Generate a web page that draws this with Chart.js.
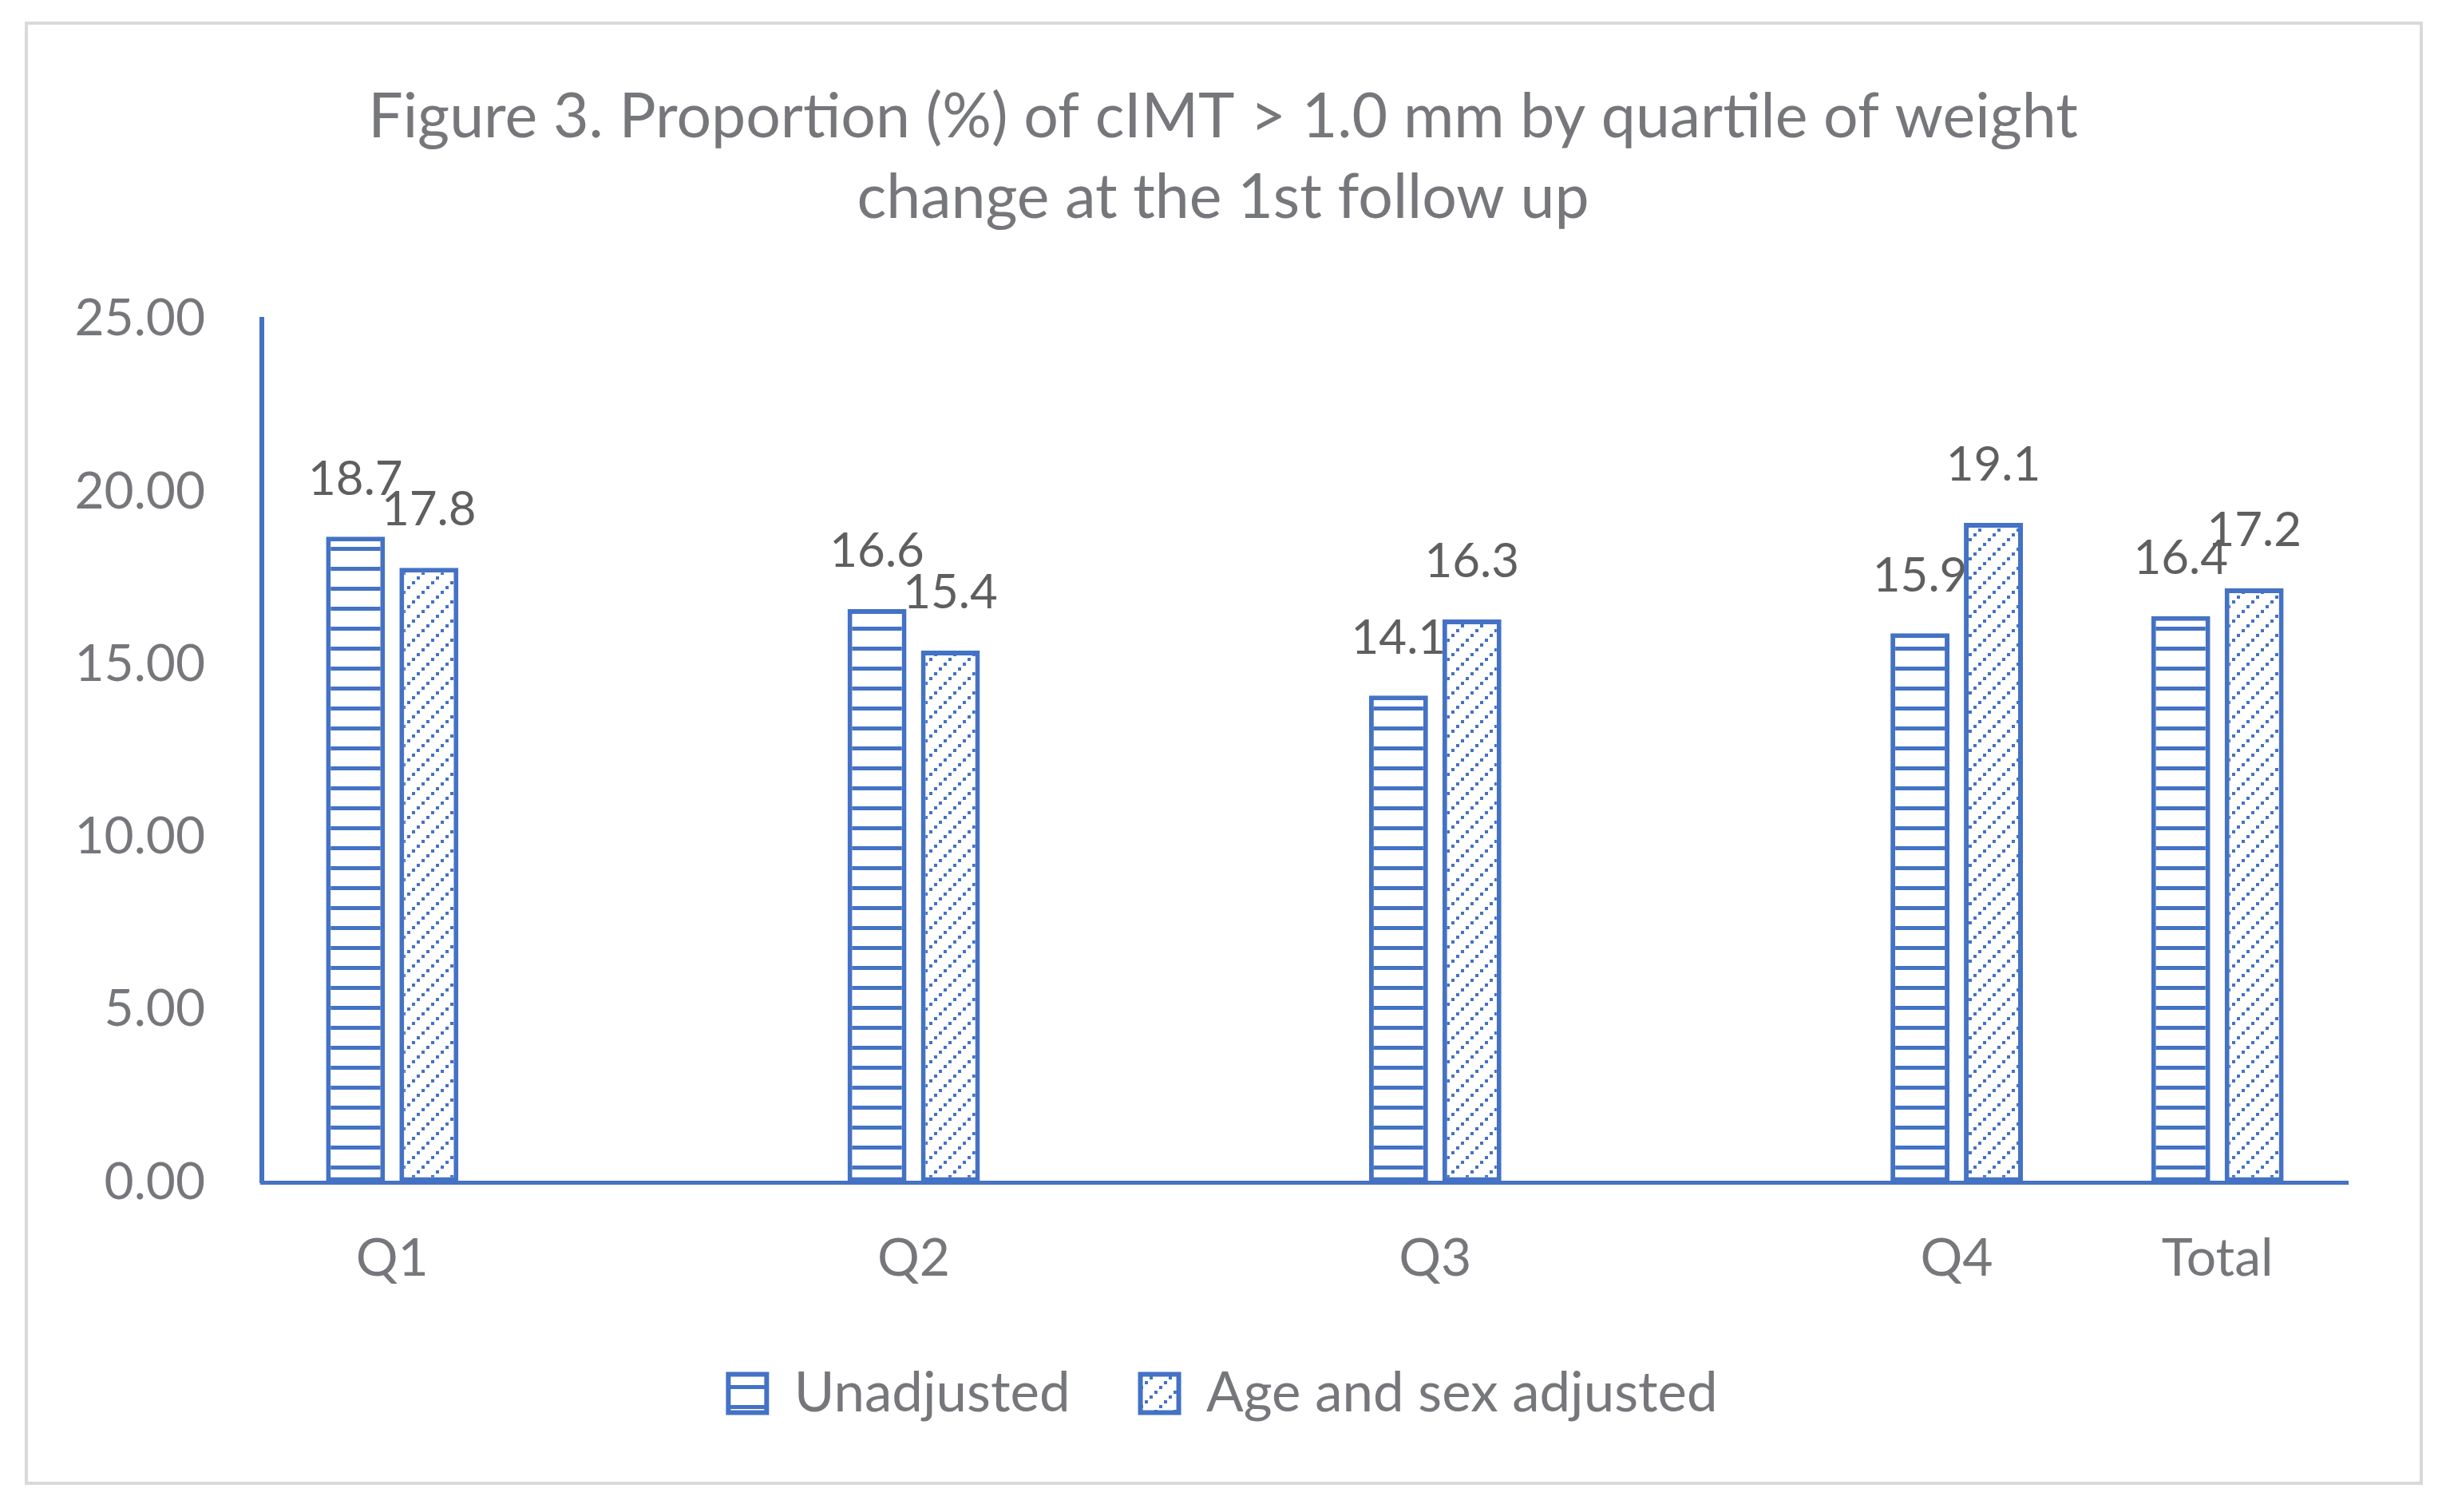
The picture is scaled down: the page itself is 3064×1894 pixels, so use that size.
<!DOCTYPE html>
<html>
<head>
<meta charset="utf-8">
<script src="https://cdn.jsdelivr.net/npm/chart.js@4.4.0/dist/chart.umd.min.js"></script>
<style>
html, body { margin: 0; padding: 0; background: #fff; }
#wrap { width: 3064px; height: 1894px; position: relative; }
</style>
</head>
<body>
<div id="wrap"><canvas id="chartOne"></canvas></div>
<script>
// blank slots keep the wide spacing between Q1..Q4 in the original
const categories = ['Q1', '', 'Q2', '', 'Q3', '', 'Q4', 'Total'];
const unadjusted = [18.7, null, 16.6, null, 14.1, null, 15.9, 16.4];
const ageSexAdjusted = [17.8, null, 15.4, null, 16.3, null, 19.1, 17.2];
const yTicks = [0, 5, 10, 15, 20, 25];
const seriesNames = ['Unadjusted', 'Age and sex adjusted'];

const blue = '#4472C4';
const grey = '#76777B';
const fontName = 'Lato';

const canvas = document.getElementById('chartOne');
const ctx = canvas.getContext('2d');

function stripes() {
    const c = document.createElement('canvas');
    c.width = 25; c.height = 25;
    const g = c.getContext('2d');
    g.fillStyle = '#fff';
    g.fillRect(0, 0, 25, 25);
    g.fillStyle = blue;
    g.fillRect(0, 10, 25, 5);
    return ctx.createPattern(c, 'repeat');
}

function hatch() {
    const c = document.createElement('canvas');
    c.width = 24; c.height = 24;
    const g = c.getContext('2d');
    g.fillStyle = '#fff';
    g.fillRect(0, 0, 24, 24);
    g.fillStyle = blue;
    for (let i = 0; i < 4; i++) {
        g.fillRect(i * 6, 20 - i * 6, 4, 4);
    }
    return ctx.createPattern(c, 'repeat');
}

const frame = {
    id: 'frame',
    beforeDraw(chart) {
        const c = chart.ctx;
        c.save();
        c.fillStyle = '#fff';
        c.fillRect(0, 0, chart.width, chart.height);
        c.strokeStyle = '#D9D9D9';
        c.lineWidth = 4;
        c.strokeRect(33, 29, 3000, 1829);
        c.restore();
    },
};

const barLabels = {
    id: 'barLabels',
    afterDatasetsDraw(chart) {
        const c = chart.ctx;
        c.save();
        c.font = '60px ' + fontName;
        c.fillStyle = '#5F5F5F';
        c.textAlign = 'center';
        c.textBaseline = 'middle';
        chart.data.datasets.forEach((ds, i) => {
            chart.getDatasetMeta(i).data.forEach((bar, j) => {
                const v = ds.data[j];
                if (v == null) return;
                c.fillText(v.toFixed(1), bar.x, bar.y - 72);
            });
        });
        c.restore();
    },
};

const myBarChart = new Chart(ctx, {
    type: 'bar',
    data: {
        labels: categories,
        datasets: [{
            label: seriesNames[0],
            data: unadjusted,
            backgroundColor: stripes(),
            borderColor: blue,
            borderWidth: 6,
            borderSkipped: false,
        }, {
            label: seriesNames[1],
            data: ageSexAdjusted,
            backgroundColor: hatch(),
            borderColor: blue,
            borderWidth: 6,
            borderSkipped: false,
        }],
    },
    plugins: [frame, barLabels],
    options: {
        responsive: true,
        maintainAspectRatio: false,
        animation: false,
        datasets: {
            bar: { categoryPercentage: 0.563, barPercentage: 0.804 },
        },
        layout: { padding: { left: 0, right: 0, top: 0, bottom: 104 } },
        plugins: {
            tooltip: { enabled: false },
            title: {
                display: true,
                text: ['Figure 3. Proportion (%) of cIMT > 1.0 mm by quartile of weight', 'change at the 1st follow up'],
                color: grey,
                font: { family: fontName, size: 77, weight: 'normal', lineHeight: 1.31 },
                padding: { top: 97, bottom: 101 },
            },
            legend: {
                position: 'bottom',
                labels: {
                    color: grey,
                    font: { family: fontName, size: 69 },
                    boxWidth: 48,
                    boxHeight: 48,
                    padding: 88,
                },
            },
        },
        scales: {
            x: {
                afterFit: (s) => { s.height = 142; },
                grid: { color: 'rgba(0,0,0,0)', drawTicks: false },
                border: { color: blue, width: 5 },
                ticks: { color: grey, font: { family: fontName, size: 66 }, padding: 56 },
            },
            y: {
                min: yTicks[0],
                max: yTicks[yTicks.length - 1],
                afterBuildTicks: (s) => { s.ticks = yTicks.map((v) => ({ value: v })); },
                afterFit: (s) => { s.width = 328; },
                grid: { color: 'rgba(0,0,0,0)', drawTicks: false },
                border: { color: blue, width: 6 },
                ticks: {
                    color: grey,
                    font: { family: fontName, size: 64 },
                    padding: 71,
                    callback: (v) => Number(v).toFixed(2),
                },
            },
            // empty right-hand strip so the title and legend stay centred on the figure
            yRight: {
                position: 'right',
                afterFit: (s) => { s.width = 123; },
                grid: { display: false, drawTicks: false },
                border: { display: false },
                ticks: { display: false },
            },
        },
    },
});
</script>
</body>
</html>
